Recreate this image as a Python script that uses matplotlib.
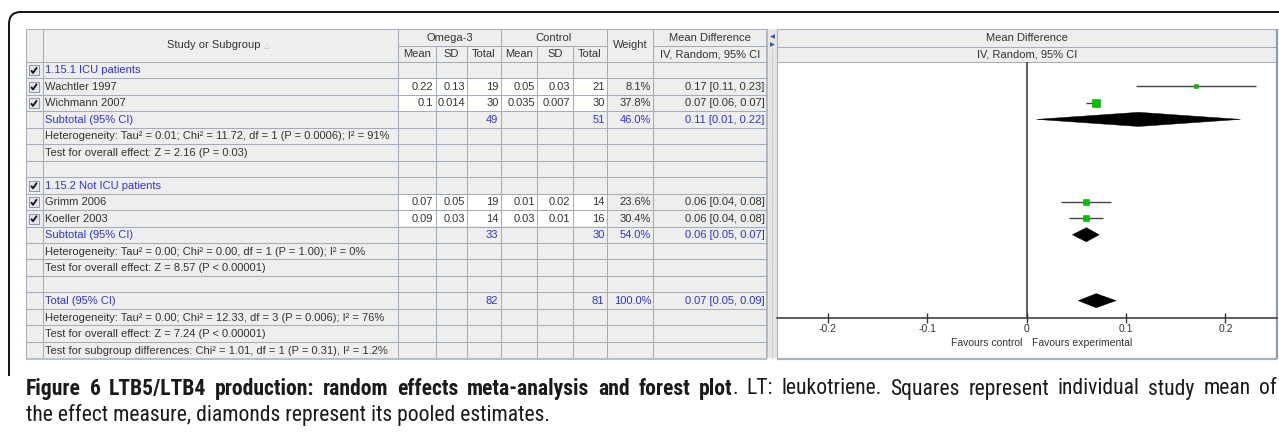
import numpy as np
import matplotlib
matplotlib.use('Agg')
import matplotlib.pyplot as plt
from matplotlib.patches import Rectangle, Polygon, PathPatch
from matplotlib.path import Path
from matplotlib import font_manager

# ---- data ----
studies = ['Wachtler 1997', 'Wichmann 2007', 'Grimm 2006', 'Koeller 2003']
study_group = [0, 0, 1, 1]
om_mean = [0.22, 0.1, 0.07, 0.09]
om_sd = [0.13, 0.014, 0.05, 0.03]
om_n = [19, 30, 19, 14]
ct_mean = [0.05, 0.035, 0.01, 0.03]
ct_sd = [0.03, 0.007, 0.02, 0.01]
ct_n = [21, 30, 14, 16]
weight = [8.1, 37.8, 23.6, 30.4]
md = [0.17, 0.07, 0.06, 0.06]
md_lo = [0.11, 0.06, 0.04, 0.04]
md_hi = [0.23, 0.07, 0.08, 0.08]
# CI ends as drawn in the plot
ci_lo = [0.11, 0.06, 0.035, 0.043]
ci_hi = [0.231, 0.072, 0.085, 0.077]

groups = ['1.15.1 ICU patients', '1.15.2 Not ICU patients']
sub_om_n = [49, 33]
sub_ct_n = [51, 30]
sub_w = [46.0, 54.0]
sub_md = [0.11, 0.06]
sub_lo = [0.01, 0.05]
sub_hi = [0.22, 0.07]
sub_dc = [0.1126, 0.06]
sub_dlo = [0.01, 0.046]
sub_dhi = [0.215, 0.073]
sub_notes = [
    ['Heterogeneity: Tau\u00b2 = 0.01; Chi\u00b2 = 11.72, df = 1 (P = 0.0006); I\u00b2 = 91%',
     'Test for overall effect: Z = 2.16 (P = 0.03)'],
    ['Heterogeneity: Tau\u00b2 = 0.00; Chi\u00b2 = 0.00, df = 1 (P = 1.00); I\u00b2 = 0%',
     'Test for overall effect: Z = 8.57 (P < 0.00001)'],
]
tot_om_n = 82
tot_ct_n = 81
tot_w = 100.0
tot_md = 0.07
tot_lo = 0.05
tot_hi = 0.09
tot_dlo = 0.052
tot_dhi = 0.09
tot_notes = [
    'Heterogeneity: Tau\u00b2 = 0.00; Chi\u00b2 = 12.33, df = 3 (P = 0.006); I\u00b2 = 76%',
    'Test for overall effect: Z = 7.24 (P < 0.00001)',
    'Test for subgroup differences: Chi\u00b2 = 1.01, df = 1 (P = 0.31), I\u00b2 = 1.2%',
]
xticks = [-0.2, -0.1, 0, 0.1, 0.2]
xticklabels = ['-0.2', '-0.1', '0', '0.1', '0.2']

cap_bold = 'Figure 6 LTB5/LTB4 production: random effects meta-analysis and forest plot'
cap_rest = '. LT: leukotriene. Squares represent individual study mean of'
cap_line2 = 'the effect measure, diamonds represent its pooled estimates.'

# ---- layout (pixels) ----
W, H = 1279, 433
cols = [26, 43, 398.3, 435.7, 467.3, 500.7, 537.3, 572.7, 606.7, 653.3, 766.7]
Y0, RH = 61.7, 16.48
HTOP, HMID = 29, 46
PL, PR = 777, 1276.7
AXY = 317.7
BOT = 358.5

GRID = '#A3AEBA'
BG = '#EEEEEE'
TXT = '#333333'
BLUE = '#3434C8'
FONT = ['Liberation Sans', 'DejaVu Sans']
FS = 8

plt.rcParams['font.family'] = FONT

fig = plt.figure(figsize=(W / 100, H / 100), dpi=100)
bg = fig.add_axes([0, 0, 1, 1])
bg.set_xlim(0, W)
bg.set_ylim(H, 0)
bg.axis('off')


def txt(x, y, s, ha='left', color=TXT, **kw):
    kw.setdefault('fontsize', FS)
    return bg.text(x, y, s, ha=ha, va='center', color=color, **kw)


def hline(x0, x1, y, c=GRID, lw=0.75):
    bg.plot([x0, x1], [y, y], color=c, lw=lw, solid_capstyle='butt')


def vline(x, y0, y1, c=GRID, lw=0.75):
    bg.plot([x, x], [y0, y1], color=c, lw=lw, solid_capstyle='butt')


# rows
rows = []
for g in range(2):
    rows.append(('group', g))
    for i in range(len(studies)):
        if study_group[i] == g:
            rows.append(('study', i))
    rows.append(('subtotal', g))
    for s in sub_notes[g]:
        rows.append(('note', s))
    rows.append(('blank', None))
rows.append(('total', None))
for s in tot_notes:
    rows.append(('note', s))
nrows = len(rows)
ybot = Y0 + nrows * RH

# table background
bg.add_patch(Rectangle((cols[0], HTOP), cols[-1] - cols[0], ybot - HTOP, fc=BG, ec='none'))
for r, (kind, v) in enumerate(rows):
    if kind == 'study':
        top = Y0 + r * RH
        bg.add_patch(Rectangle((cols[2], top), cols[8] - cols[2], RH, fc='white', ec='none'))

# grid
hline(cols[0], cols[-1], HTOP)
hline(cols[2], cols[8], HMID)
hline(cols[9], cols[10], HMID)
for r in range(nrows + 1):
    hline(cols[0], cols[-1], Y0 + r * RH)
vline(cols[0], HTOP, ybot)
vline(cols[1], HTOP, ybot)
for k in [2, 5, 8, 9]:
    vline(cols[k], HTOP, ybot)
for k in [3, 4, 6, 7]:
    vline(cols[k], HMID, ybot)
vline(cols[10], HTOP, ybot, lw=1.2)
hline(cols[0], cols[-1], ybot + 1, c='#B8C0C8', lw=1.5)

# header text
hy1 = (HTOP + HMID) / 2 + 0.5
hy2 = (HMID + Y0) / 2 + 0.5
txt(214, (HTOP + Y0) / 2, 'Study or Subgroup', ha='center')
bg.text(266.5, (HTOP + Y0) / 2, '\u25b3', ha='center', va='center', fontsize=5.5,
        color='#C8C8C8', family='DejaVu Sans')
txt((cols[2] + cols[5]) / 2, hy1, 'Omega-3', ha='center')
txt((cols[5] + cols[8]) / 2, hy1, 'Control', ha='center')
txt((cols[8] + cols[9]) / 2, (HTOP + Y0) / 2, 'Weight', ha='center')
txt((cols[9] + cols[10]) / 2, hy1, 'Mean Difference', ha='center')
for k, s in zip(range(2, 8), ['Mean', 'SD', 'Total', 'Mean', 'SD', 'Total']):
    txt((cols[k] + cols[k + 1]) / 2, hy2, s, ha='center')
txt((cols[9] + cols[10]) / 2, hy2, 'IV, Random, 95% CI', ha='center')


def checkbox(cy):
    x0 = 29
    bg.add_patch(Rectangle((x0, cy - 5), 10, 10, fc='#E2E6EC', ec='#8C98A6', lw=0.7))
    bg.plot([x0 + 2.5, x0 + 4, x0 + 7.5], [cy + 0.5, cy + 2.5, cy - 2.5], color='#1A1A1A',
            lw=1.4, solid_capstyle='round')


def fmt(v):
    return f'{v:g}'


def ci(m, lo, hi):
    return f'{m:.2f} [{lo:.2f}, {hi:.2f}]'


pad = 2.2
for r, (kind, v) in enumerate(rows):
    top = Y0 + r * RH
    cy = top + RH / 2 + 0.5
    if kind == 'group':
        checkbox(cy)
        txt(45, cy, groups[v], color=BLUE)
    elif kind == 'study':
        checkbox(cy)
        txt(45, cy, studies[v])
        vals = [fmt(om_mean[v]), fmt(om_sd[v]), str(om_n[v]),
                fmt(ct_mean[v]), fmt(ct_sd[v]), str(ct_n[v]),
                f'{weight[v]:.1f}%', ci(md[v], md_lo[v], md_hi[v])]
        for k, s in enumerate(vals):
            txt(cols[k + 3] - pad, cy, s, ha='right')
    elif kind == 'subtotal':
        txt(45, cy, 'Subtotal (95% CI)', color=BLUE)
        txt(cols[5] - pad, cy, str(sub_om_n[v]), ha='right', color=BLUE)
        txt(cols[8] - pad, cy, str(sub_ct_n[v]), ha='right', color=BLUE)
        txt(cols[9] - pad, cy, f'{sub_w[v]:.1f}%', ha='right', color=BLUE)
        txt(cols[10] - pad, cy, ci(sub_md[v], sub_lo[v], sub_hi[v]), ha='right', color=BLUE)
    elif kind == 'total':
        txt(45, cy, 'Total (95% CI)', color=BLUE)
        txt(cols[5] - pad, cy, str(tot_om_n), ha='right', color=BLUE)
        txt(cols[8] - pad, cy, str(tot_ct_n), ha='right', color=BLUE)
        txt(cols[9] - pad, cy, f'{tot_w:.1f}%', ha='right', color=BLUE)
        txt(cols[10] - pad, cy, ci(tot_md, tot_lo, tot_hi), ha='right', color=BLUE)
    elif kind == 'note':
        txt(45, cy, v)

# splitter
bg.add_patch(Rectangle((767.5, HTOP), 9, ybot - HTOP, fc='#E6E6E6', ec='none'))
bg.plot([771.5, 771.5], [HTOP + 20, ybot], color='#B4B4B4', lw=0.75, ls=(0, (1, 1)))
bg.plot([771.5], [36], marker='<', ms=3.5, color='#3A5A9A', mew=0)
bg.plot([771.5], [44], marker='>', ms=3.5, color='#3A5A9A', mew=0)

# right panel frame
bg.add_patch(Rectangle((PL, HTOP), PR - PL, Y0 - HTOP, fc=BG, ec='none'))
bg.add_patch(Rectangle((PL, Y0), PR - PL, BOT - Y0, fc='white', ec='none'))
hline(PL, PR, HTOP)
hline(PL, PR, HMID + 0.7)
hline(PL, PR, Y0)
vline(PL, HTOP, BOT)
vline(PR, HTOP, BOT, c='#8E9BAA', lw=1.6)
hline(PL, PR, BOT, c='#A8B2BC', lw=1.6)
txt((PL + PR) / 2, hy1, 'Mean Difference', ha='center')
txt((PL + PR) / 2, hy2, 'IV, Random, 95% CI', ha='center')

# forest plot
ax = fig.add_axes([PL / W, 1 - AXY / H, (PR - PL) / W, (AXY - Y0) / H])
ax.set_xlim(-0.251, 0.2515)
ax.set_ylim((AXY - Y0) / RH, 0)
ax.patch.set_alpha(0)
for s in ['top', 'left', 'right']:
    ax.spines[s].set_visible(False)
ax.spines['bottom'].set_color('#333333')
ax.spines['bottom'].set_linewidth(1.1)
ax.set_yticks([])
ax.set_xticks(xticks)
ax.set_xticklabels(xticklabels)
ax.tick_params(axis='x', direction='inout', length=7, width=1, colors='#333333',
               labelsize=7.5, pad=1)
ax.axvline(0, color='#333333', lw=1.1)

row_of = {}
for r, (kind, v) in enumerate(rows):
    row_of[(kind, v)] = r + 0.5
for i in range(len(studies)):
    y = row_of[('study', i)]
    ax.plot([ci_lo[i], ci_hi[i]], [y, y], color='#444444', lw=1.0, solid_capstyle='butt')
    side = 1.2 * np.sqrt(weight[i])
    ax.plot(md[i], y, marker='s', ms=side * 0.72, mfc='#00C000', mec='#00A800', mew=0.4)


def diamond(c, lo, hi, y, h=0.43):
    ax.add_patch(Polygon([(lo, y), (c, y - h), (hi, y), (c, y + h)], closed=True,
                         fc='black', ec='black', lw=0.3))


for g in range(2):
    diamond(sub_dc[g], sub_dlo[g], sub_dhi[g], row_of[('subtotal', g)])
diamond(tot_md, tot_dlo, tot_dhi, row_of[('total', None)])

txt(1022, 342.5, 'Favours control', ha='right', fontsize=7.5)
txt(1032, 342.5, 'Favours experimental', ha='left', fontsize=7.5)

# outer frame
verts = [(9, 376), (9, 24), (9, 12), (21, 12), (W + 2, 12)]
codes = [Path.MOVETO, Path.LINETO, Path.CURVE3, Path.CURVE3, Path.LINETO]
bg.add_patch(PathPatch(Path(verts, codes), fc='none', ec='#111111', lw=1.4))

# caption: pick a narrow face if one is there, size it to the reference width
names = {f.name for f in font_manager.fontManager.ttflist}
cap_font = 'Liberation Sans'
for cand in ['Roboto Condensed', 'Liberation Sans Narrow', 'Open Sans Condensed', 'Roboto']:
    if cand in names:
        cap_font = cand
        break
fig.canvas.draw()
rend = fig.canvas.get_renderer()
probe = txt(26, 415, cap_line2, fontsize=12, family=cap_font, color='#1A1A1A')
wpx = probe.get_window_extent(rend).width
cap_fs = 12 * 525 / wpx
probe.set_fontsize(cap_fs)

# first caption line is justified between the margins: place word groups one by one
pix = matplotlib.transforms.blended_transform_factory(
    matplotlib.transforms.IdentityTransform(), bg.transData)
words = [[(w, 'bold')] for w in cap_bold.split(' ')]
rest_words = cap_rest.split(' ')
words[-1].append((rest_words[0], 'normal'))
words += [[(w, 'normal')] for w in rest_words[1:]]
placed = []
total_w = 0
for grp in words:
    pieces = []
    for s, wt in grp:
        t = bg.text(0, 389, s, ha='left', va='center', fontsize=cap_fs, family=cap_font,
                    fontweight=wt, color='#1A1A1A', transform=pix)
        wpiece = t.get_window_extent(rend).width
        pieces.append((t, wpiece))
        total_w += wpiece
    placed.append(pieces)
x_left, x_right = 26, 1277
gap = (x_right - x_left - total_w) / (len(placed) - 1)
x = x_left
for pieces in placed:
    for t, wpiece in pieces:
        t.set_x(x)
        x += wpiece
    x += gap

fig.savefig('out.png', dpi=100)
